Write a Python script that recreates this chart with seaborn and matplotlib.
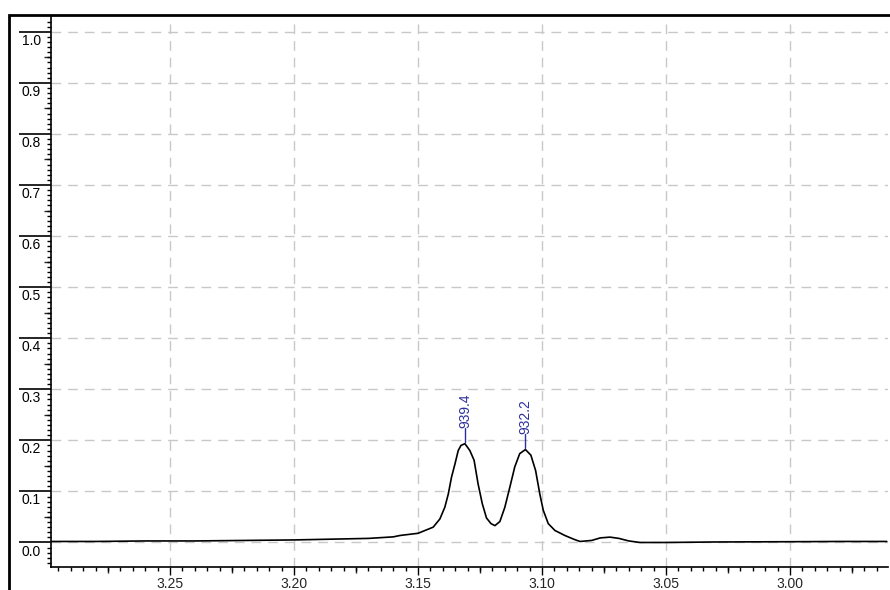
import matplotlib
matplotlib.use("Agg")
import matplotlib.pyplot as plt
import matplotlib.transforms as mtransforms
from matplotlib.patches import Rectangle
import numpy as np
import pandas as pd
import seaborn as sns

# spectrum (ppm, intensity)
ppm = [3.298, 3.28, 3.26, 3.24, 3.22, 3.20, 3.18, 3.17, 3.16, 3.1573, 3.150,
       3.1472, 3.1439, 3.1412, 3.1392, 3.1378, 3.1365, 3.1351, 3.1338, 3.1327,
       3.1311, 3.1291, 3.1274, 3.1258, 3.1241, 3.1224, 3.1206, 3.1190, 3.1170,
       3.1150, 3.1130, 3.1110, 3.1090, 3.1067, 3.1045, 3.1026, 3.1009, 3.0995,
       3.0975, 3.0948, 3.0908, 3.0870, 3.0847, 3.0800, 3.0765, 3.0726, 3.0690,
       3.0650, 3.0605, 3.05, 3.03, 3.00, 2.98, 2.961]
intensity = [0.002, 0.002, 0.003, 0.003, 0.004, 0.005, 0.007, 0.008, 0.011,
             0.0137, 0.018, 0.0235, 0.030, 0.046, 0.069, 0.095, 0.128, 0.154,
             0.180, 0.190, 0.1935, 0.180, 0.161, 0.115, 0.076, 0.048, 0.037,
             0.033, 0.041, 0.069, 0.108, 0.148, 0.174, 0.182, 0.171, 0.141,
             0.095, 0.063, 0.037, 0.0235, 0.0137, 0.006, 0.002, 0.004, 0.009,
             0.0105, 0.008, 0.003, 0.0, 0.0, 0.001, 0.0015, 0.002, 0.002]

peak_ppm = [3.1311, 3.1067]
peak_val = [0.1935, 0.182]
peak_labels = ["939.4", "932.2"]

x_ticks = [3.25, 3.20, 3.15, 3.10, 3.05, 3.00]
y_ticks = [0.0, 0.1, 0.2, 0.3, 0.4, 0.5, 0.6, 0.7, 0.8, 0.9, 1.0]

sns.set_style("white")
plt.rcParams["font.family"] = ["Liberation Sans", "DejaVu Sans"]

fig = plt.figure(figsize=(8.9, 5.9), dpi=100)
ax = fig.add_axes([51 / 890, 23 / 590, (888 - 51) / 890, (567 - 17) / 590])

df = pd.DataFrame({"ppm": ppm, "intensity": intensity})
sns.lineplot(data=df, x="ppm", y="intensity", sort=False, color="black",
             linewidth=1.2, ax=ax)

ax.set_xlim(3.298, 2.9605)
ax.set_ylim(-0.048, 1.029)
ax.set_xlabel("")
ax.set_ylabel("")

# grid
ax.set_xticks(x_ticks)
ax.set_yticks(y_ticks)
ax.grid(True, color="#c8c8c8", linestyle=(0, (7, 5)), linewidth=1.0)
ax.set_axisbelow(True)

for s in ["top", "right"]:
    ax.spines[s].set_visible(False)
for s in ["left", "bottom"]:
    ax.spines[s].set_color("black")
    ax.spines[s].set_linewidth(1.2)

ax.set_xticks(np.arange(2.965, 3.30, 0.005), minor=True)
ax.set_yticks(np.arange(-0.04, 1.03, 0.01), minor=True)
ax.tick_params(axis="x", which="both", bottom=True)
ax.tick_params(axis="y", which="both", left=True)
ax.tick_params(axis="x", which="major", direction="out", length=6, width=1,
               color="black", labelsize=10, pad=1)
ax.tick_params(axis="x", which="minor", direction="out", length=3, width=1,
               color="black")
ax.tick_params(axis="y", which="major", direction="out", length=23, width=1.2,
               color="black", labelleft=False)
ax.tick_params(axis="y", which="minor", direction="out", length=3, width=1,
               color="black")

# medium ticks
secx = ax.secondary_xaxis("bottom")
secx.set_xticks([3.275, 3.225, 3.175, 3.125, 3.075, 3.025, 2.975])
secx.tick_params(bottom=True, direction="out", length=4.5, width=1,
                 labelbottom=False)
secx.spines["bottom"].set_visible(False)
secy = ax.secondary_yaxis("left")
secy.set_yticks(np.arange(0.05, 1.0, 0.1))
secy.tick_params(left=True, direction="out", length=5, width=1,
                 labelleft=False)
secy.spines["left"].set_visible(False)

# y tick labels sit under the long tick lines
trans = mtransforms.blended_transform_factory(fig.transFigure, ax.transData)
for v in y_ticks:
    ax.text(22 / 890, v - 0.004, f"{v:.1f}", transform=trans, ha="left",
            va="top", fontsize=10, color="black")

# peak labels
for xp, yp, lab in zip(peak_ppm, peak_val, peak_labels):
    ax.plot([xp, xp], [yp + 0.003, yp + 0.03], color="#2e2e9e", linewidth=1.0)
    ax.text(xp, yp + 0.031, lab, rotation=90, ha="center", va="bottom",
            fontsize=10, color="#2e2e9e")

# outer frame
fig.patches.append(Rectangle((9 / 890, -0.05), 1.0, 1 - 15 / 590 + 0.05,
                             fill=False, edgecolor="black", linewidth=2,
                             transform=fig.transFigure, figure=fig))

fig.savefig("out.png", dpi=100)
